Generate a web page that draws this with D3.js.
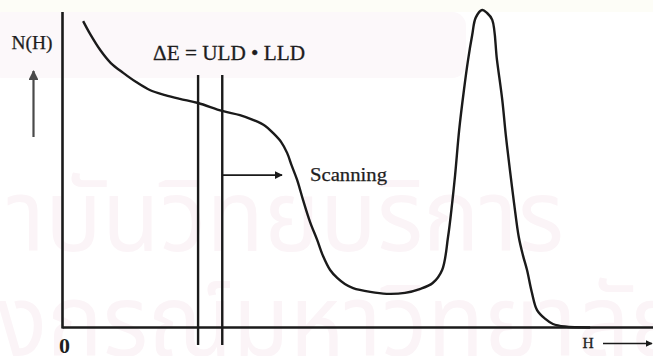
<!DOCTYPE html>
<html>
<head>
<meta charset="utf-8">
<script src="https://cdn.jsdelivr.net/npm/d3@7"></script>
<style>
  html, body { margin: 0; padding: 0; background: #fff; }
  svg { display: block; }
  text { font-family: "Liberation Serif", "Times New Roman", serif; fill: #1e1e1e; }
</style>
</head>
<body>
<svg id="chart" width="653" height="356"></svg>
<script>
// Pulse-height spectrum N(H) against channel H (relative units, peak = 100)
const channelH = [3.5, 4.7, 6.4, 8.2, 10.3, 12.5, 14.8, 17.4, 19.9, 23.0, 27.1, 30.1, 32.3, 34.4,
  35.7, 37.1, 38.1, 38.9, 39.8, 40.8, 42.0, 43.2, 44.2, 45.4, 46.6, 47.9, 49.3, 52.2, 55.0,
  58.1, 60.6, 62.8, 64.4, 65.4, 66.1, 66.6, 67.3, 68.1, 68.8, 69.5, 70.1, 71.2, 72.0, 72.9,
  73.7, 74.6, 75.2, 75.9, 76.6, 77.4, 78.1, 78.8, 79.6, 80.5, 81.9, 83.2, 85.2, 89.5];
const countsN = [96.5, 92.4, 87.4, 83.3, 80.2, 77.3, 74.8, 73.2, 72.0, 70.7, 68.2, 66.9, 65.4, 63.5,
  61.3, 58.4, 55.0, 50.9, 46.5, 40.2, 33.2, 27.6, 22.5, 18.1, 15.6, 13.7, 12.4, 11.2, 10.6,
  10.9, 12.1, 14.0, 18.1, 28.5, 39.2, 48.0, 62.4, 74.8, 84.3, 92.1, 97.6, 100, 99.1, 96.9,
  84.3, 71.7, 60.6, 49.6, 39.2, 28.5, 22.8, 18.1, 11.2, 5.5, 2.7, 1.1, 0.3, 0];

// Discriminator window: lower and upper level (channel units)
const levelLLD = 23.0;
const levelULD = 27.1;
const windowTop = 79.5;
const windowBottom = -5.5;

// Axis extents (relative units)
const hMax = 100.2;
const nMax = 99.4;

// Labels
const yLabel = "N(H)";
const xLabel = "H";
const originLabel = "0";
const windowLabel = "\u0394E = ULD \u2022 LLD";
const scanLabel = "Scanning";
const watermarkLines = ["สถาบันวิทยบริการ", "จุฬาลงกรณ์มหาวิทยาลัย"];

const svg = d3.select("#chart");
const x = d3.scaleLinear().domain([0, 100]).range([62.5, 652]);
const y = d3.scaleLinear().domain([0, 100]).range([327.5, 10]);

// faint background stamp
svg.append("rect").attr("x", 0).attr("y", 0).attr("width", 653).attr("height", 12)
  .attr("fill", "#fdfdf7");
svg.append("rect").attr("x", -12).attr("y", 12).attr("width", 478).attr("height", 66)
  .attr("rx", 14).attr("fill", "#fcf8fa");
const wmFont = "'Noto Sans Thai', 'Noto Sans', 'DejaVu Sans', sans-serif";
const wm = svg.append("g").attr("class", "watermark");
wm.append("text").attr("x", -104).attr("y", 251).text(watermarkLines[0])
  .attr("textLength", 668).attr("lengthAdjust", "spacingAndGlyphs")
  .style("font-family", wmFont).style("font-size", "100px").style("fill", "#fbf4f7");
wm.append("text").attr("x", -205).attr("y", 356).text(watermarkLines[1])
  .attr("textLength", 890).attr("lengthAdjust", "spacingAndGlyphs")
  .style("font-family", wmFont).style("font-size", "100px").style("fill", "#fbf4f7");

const ink = "#1a1a1a";

// axes
svg.append("line")
  .attr("x1", x(0)).attr("x2", x(0)).attr("y1", y(nMax)).attr("y2", y(0) + 1)
  .attr("stroke", ink).attr("stroke-width", 2.6);
svg.append("line")
  .attr("x1", x(0)).attr("x2", x(hMax)).attr("y1", y(0)).attr("y2", y(0))
  .attr("stroke", ink).attr("stroke-width", 2.6);

// discriminator levels
[levelLLD, levelULD].forEach(v => {
  svg.append("line")
    .attr("x1", x(v)).attr("x2", x(v))
    .attr("y1", y(windowTop)).attr("y2", y(windowBottom))
    .attr("stroke", ink).attr("stroke-width", 2.4);
});

// spectrum curve
const pts = channelH.map((h, i) => [h, countsN[i]]);
const line = d3.line().x(d => x(d[0])).y(d => y(d[1])).curve(d3.curveCatmullRom.alpha(0.5));
svg.append("path").datum(pts).attr("d", line)
  .attr("fill", "none").attr("stroke", ink).attr("stroke-width", 2.4)
  .attr("stroke-linejoin", "round");

// arrow markers
const defs = svg.append("defs");
function marker(id, color) {
  defs.append("marker").attr("id", id)
    .attr("viewBox", "0 0 10 10").attr("refX", 9).attr("refY", 5)
    .attr("markerWidth", 4.5).attr("markerHeight", 4.5).attr("orient", "auto")
    .append("path").attr("d", "M0,0 L10,5 L0,10 Z").attr("fill", color);
}
marker("arrowDark", ink);
marker("arrowGrey", "#4a4a4a");

// y label and upward arrow
svg.append("text").attr("x", 32).attr("y", 49).attr("text-anchor", "middle")
  .style("font-size", "18px").attr("textLength", 41).attr("lengthAdjust", "spacingAndGlyphs")
  .style("stroke", "#1e1e1e").style("stroke-width", 0.25)
  .text(yLabel);
svg.append("line").attr("x1", 33.5).attr("x2", 33.5).attr("y1", 137).attr("y2", 71)
  .attr("stroke", "#4a4a4a").attr("stroke-width", 2.2).attr("marker-end", "url(#arrowGrey)");

// window label
svg.append("text").attr("x", 153).attr("y", 60)
  .style("font-size", "20px").attr("textLength", 152).attr("lengthAdjust", "spacingAndGlyphs")
  .style("stroke", "#1e1e1e").style("stroke-width", 0.3)
  .text(windowLabel);

// scanning arrow and label
const scanY = y(48.0);
svg.append("line").attr("x1", x(levelULD)).attr("x2", 282).attr("y1", scanY).attr("y2", scanY)
  .attr("stroke", ink).attr("stroke-width", 1.8).attr("marker-end", "url(#arrowDark)");
svg.append("text").attr("x", 310).attr("y", 181)
  .style("font-size", "18px").attr("textLength", 77).attr("lengthAdjust", "spacingAndGlyphs")
  .style("stroke", "#1e1e1e").style("stroke-width", 0.25)
  .text(scanLabel);

// origin and x label
svg.append("text").attr("x", 64.5).attr("y", 353).attr("text-anchor", "middle")
  .style("font-size", "22px").style("font-weight", "bold").text(originLabel);
svg.append("text").attr("x", 588).attr("y", 347.5).attr("text-anchor", "middle")
  .style("font-size", "15.5px").style("stroke", "#1e1e1e").style("stroke-width", 0.3)
  .text(xLabel);
svg.append("line").attr("x1", 603).attr("x2", 652).attr("y1", 343.5).attr("y2", 343.5)
  .attr("stroke", ink).attr("stroke-width", 1.6).attr("marker-end", "url(#arrowDark)");
</script>
</body>
</html>
